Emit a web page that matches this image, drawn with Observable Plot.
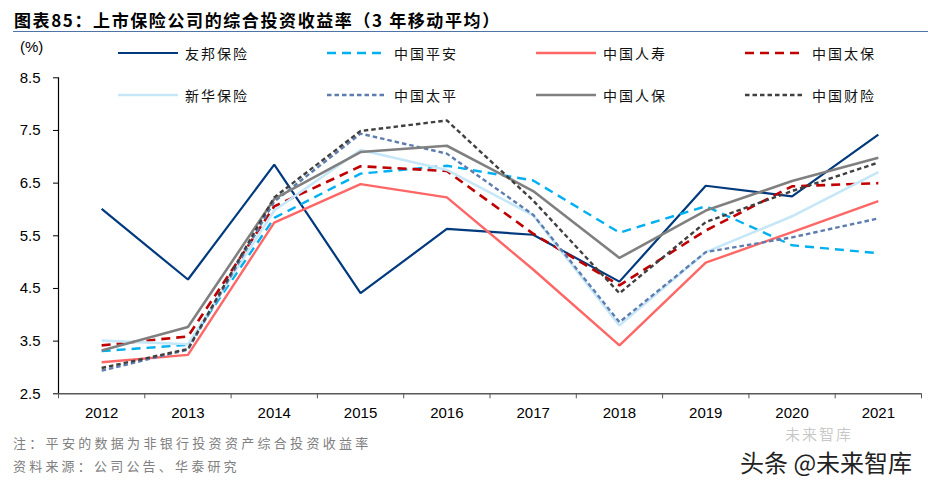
<!DOCTYPE html>
<html><head><meta charset="utf-8">
<script src="https://cdn.jsdelivr.net/npm/d3@7"></script>
<script src="https://cdn.jsdelivr.net/npm/@observablehq/plot@0.6"></script>
<style>
body{margin:0;background:#fff;}
#wrap{position:relative;width:928px;height:480px;overflow:hidden;font-family:"Noto Sans CJK SC",sans-serif;}
#wrap svg.plot{position:absolute;left:0;top:0;}
.abs{position:absolute;white-space:nowrap;}
.leg{position:absolute;display:flex;align-items:center;height:20px;font-size:14px;letter-spacing:2px;color:#111;}
.leg svg{margin-right:7px;}
</style>
</head><body>
<div id="wrap"></div>
<script>
const years = [2012,2013,2014,2015,2016,2017,2018,2019,2020,2021];
const yTicks = [2.5,3.5,4.5,5.5,6.5,7.5,8.5];
const companies = ["友邦保险","中国平安","中国人寿","中国太保","新华保险","中国太平","中国人保","中国财险"];
const aia      = [6.01,4.67,6.85,4.41,5.63,5.52,4.63,6.45,6.25,7.42];
const pingan   = [3.31,3.43,5.84,6.68,6.83,6.55,5.56,6.06,5.32,5.17];
const chinaLife= [3.10,3.24,5.75,6.48,6.23,4.86,3.42,4.99,5.57,6.16];
const cpic     = [3.42,3.59,6.06,6.82,6.73,5.54,4.56,5.60,6.44,6.50];
const nci      = [3.51,3.44,5.98,7.13,6.75,5.89,3.80,5.19,5.87,6.71];
const taiping  = [2.94,3.34,6.15,7.44,7.06,5.90,3.86,5.19,5.47,5.83];
const picc     = [3.32,3.77,6.20,7.09,7.21,6.35,5.08,5.98,6.54,6.98];
const piccPC   = [2.99,3.35,6.23,7.49,7.69,6.17,4.41,5.76,6.35,6.89];
const seriesValues = [aia,pingan,chinaLife,cpic,nci,taiping,picc,piccPC];
const styles = [
  {stroke:"#003A7D", width:2.2, dash:null},
  {stroke:"#00B0F0", width:2.4, dash:"9,6"},
  {stroke:"#FF6666", width:2.4, dash:null},
  {stroke:"#C00000", width:2.6, dash:"9,6"},
  {stroke:"#C5E7F7", width:2.6, dash:null},
  {stroke:"#5E7DAE", width:2.4, dash:"4.5,3"},
  {stroke:"#808080", width:2.6, dash:null},
  {stroke:"#404040", width:2.4, dash:"4.5,3"}
];

const boundaries = [years[0]-0.5, ...years.map(y => y+0.5)];

const lineMarks = companies.map((name,i) => {
  const data = years.map((yr,j) => ({year: yr, value: seriesValues[i][j]}));
  return Plot.line(data, {x:"year", y:"value", stroke: styles[i].stroke, strokeWidth: styles[i].width,
    strokeDasharray: styles[i].dash || undefined, strokeLinejoin:"miter", strokeLinecap:"butt"});
});

const chart = Plot.plot({
  width: 928, height: 480,
  marginTop: 77.3, marginBottom: 86.7, marginLeft: 58, marginRight: 7,
  x: {domain: [boundaries[0], boundaries[boundaries.length-1]], axis: null, label: null},
  y: {domain: [yTicks[0], yTicks[yTicks.length-1]], axis: null, label: null},
  style: {fontFamily: "'Liberation Sans', Arial, sans-serif", fontSize: "15px", background: "transparent", color:"#000"},
  marks: [
    Plot.axisY({ticks: yTicks, tickSize: 5, tickPadding: 13, tickFormat: d => d.toFixed(1), fontSize: 15, stroke:"#000", label: null}),
    Plot.axisX({ticks: boundaries, tickSize: 5, tickFormat: () => "", stroke:"#555", label: null}),
    Plot.axisX({ticks: years, tickSize: 0, tickPadding: 14, tickFormat: d => String(d), fontSize: 15, label: null}),
    ...lineMarks,
    Plot.ruleX([boundaries[0]], {stroke:"#000", strokeWidth:1.2}),
    Plot.ruleY([yTicks[0]], {stroke:"#595959", strokeWidth:1.6})
  ]
});
chart.classList.add("plot");
const wrap = document.getElementById("wrap");
wrap.appendChild(chart);

function addText(txt, css){
  const d = document.createElement("div");
  d.className = "abs"; d.textContent = txt; d.style.cssText += css;
  wrap.appendChild(d); return d;
}
addText("图表85：上市保险公司的综合投资收益率（3 年移动平均）",
  "left:14px;top:7px;font-size:17px;font-weight:bold;letter-spacing:1.6px;color:#000;");
const hr = document.createElement("div");
hr.className="abs"; hr.style.cssText="left:13px;top:31px;width:915px;height:0;border-top:1.5px solid #4F74A8;";
wrap.appendChild(hr);
addText("(%)", "left:20px;top:38px;font-size:15px;font-family:'Liberation Sans',Arial,sans-serif;color:#000;");

const legX = [118,327,536,745];
const legY = [53,95];
companies.forEach((name,i) => {
  const col = i % 4, row = Math.floor(i/4);
  const d = document.createElement("div");
  d.className = "leg";
  d.style.left = legX[col] + "px";
  d.style.top = (legY[row]-10) + "px";
  const s = styles[i];
  d.innerHTML = `<svg width="60" height="6"><line x1="0" y1="3" x2="60" y2="3" stroke="${s.stroke}" stroke-width="${s.width}" ${s.dash?`stroke-dasharray="${s.dash}"`:""}/></svg><span>${name}</span>`;
  wrap.appendChild(d);
});

addText("注：平安的数据为非银行投资资产综合投资收益率", "left:13px;top:433px;font-size:13px;letter-spacing:3.3px;color:#808080;");
addText("资料来源：公司公告、华泰研究", "left:13px;top:456px;font-size:13px;letter-spacing:3.2px;color:#808080;");
addText("未来智库", "left:785px;top:425px;font-size:15px;line-height:17px;color:rgba(60,60,60,0.3);letter-spacing:2px;");
addText("头条 @未来智库", "left:740px;top:449px;font-size:24px;line-height:26px;color:#222;letter-spacing:0px;");
</script>
</body></html>
